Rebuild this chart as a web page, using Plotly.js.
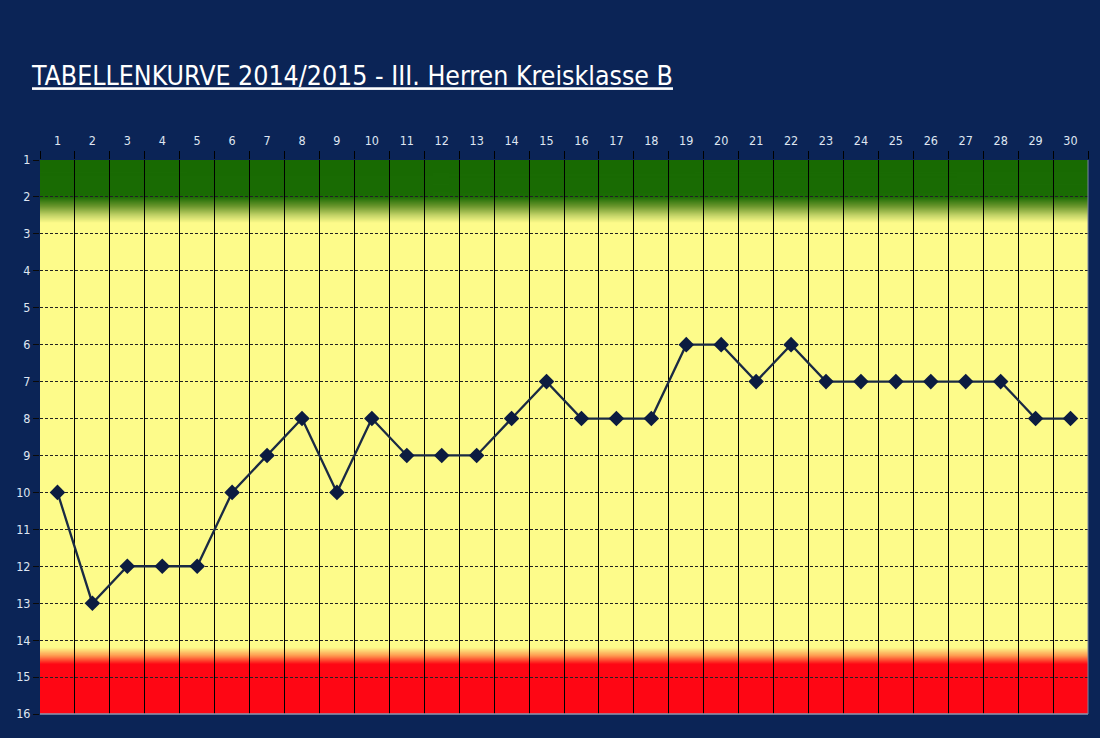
<!DOCTYPE html>
<html><head><meta charset="utf-8">
<script src="https://cdn.plot.ly/plotly-3.0.1.min.js"></script>
<style>html,body{margin:0;padding:0;background:#0b2456;}#chart{width:1100px;height:738px;}</style>
</head><body><div id="chart"></div>
<script>
var matchdays = ['1','2','3','4','5','6','7','8','9','10','11','12','13','14','15','16','17','18','19','20','21','22','23','24','25','26','27','28','29','30'];
var positions = [10,13,12,12,12,10,9,8,10,8,9,9,9,8,7,8,8,8,6,6,7,6,7,7,7,7,7,7,8,8];
var rankTicks = [1,2,3,4,5,6,7,8,9,10,11,12,13,14,15,16];
var titleText = 'TABELLENKURVE 2014/2015 - III. Herren Kreisklasse B';

// background gradient (green = promotion, red = relegation)
var cv = document.createElement('canvas');
cv.width = 4; cv.height = 600;
var ctx = cv.getContext('2d');
function f(v){ return (v-1)/15; }
var g = ctx.createLinearGradient(0,0,0,600);
g.addColorStop(0,'#186a02');
g.addColorStop(f(2.0),'#1a6c04');
g.addColorStop(f(2.25),'#6a962c');
g.addColorStop(f(2.5),'#c4d468');
g.addColorStop(f(2.7),'#fdfb8a');
g.addColorStop(f(14.2),'#fdfb8a');
g.addColorStop(f(14.42),'#fe9a50');
g.addColorStop(f(14.65),'#fe0614');
g.addColorStop(1,'#fe0614');
ctx.fillStyle = g; ctx.fillRect(0,0,4,600);
var bgImg = cv.toDataURL('image/png');

var trace = {
  x: matchdays, y: positions, type: 'scatter', mode: 'lines+markers',
  line: {color: '#1a2a44', width: 2.3},
  marker: {symbol: 'diamond', size: 12, color: '#0c1c40'},
  hoverinfo: 'x+y'
};

var layout = {
  width: 1100, height: 738,
  paper_bgcolor: '#0b2456', plot_bgcolor: 'rgba(0,0,0,0)',
  margin: {l: 40, r: 12, t: 160, b: 24},
  showlegend: false,
  font: {family: 'DejaVu Sans Condensed, DejaVu Sans, sans-serif', color: '#dfe6f2', size: 12},
  title: {
    text: '<u>' + titleText + '</u>',
    x: 32/1100, xanchor: 'left', xref: 'container',
    y: 1 - 76/738, yanchor: 'middle', yref: 'container',
    font: {family: 'DejaVu Sans Condensed, DejaVu Sans, sans-serif', size: 26.5, color: '#ffffff'}
  },
  xaxis: {
    type: 'category', side: 'top', categoryorder: 'array', categoryarray: matchdays,
    range: [-0.5, 29.5], autorange: false,
    tickson: 'boundaries', ticks: 'outside', ticklen: 8, tickcolor: '#000000', tickwidth: 1,
    ticklabelstandoff: 12,
    showgrid: true, gridcolor: '#000000', gridwidth: 1,
    showline: false, zeroline: false,
    tickfont: {size: 12.5, color: '#dfe6f2'}, fixedrange: true
  },
  yaxis: {
    range: [16, 1], tickmode: 'array', tickvals: rankTicks, ticktext: rankTicks.map(String),
    showgrid: true, gridcolor: '#222222', gridwidth: 1, griddash: '3px,2px',
    ticks: 'outside', ticklen: 6, tickcolor: '#0a0a0a',
    zeroline: false, showline: false,
    tickfont: {size: 12.5, color: '#dfe6f2'}, fixedrange: true
  },
  images: [{
    source: bgImg, xref: 'paper', yref: 'paper', x: 0, y: 1, sizex: 1, sizey: 1,
    sizing: 'stretch', xanchor: 'left', yanchor: 'top', layer: 'below'
  }],
  shapes: [
    {type: 'line', xref: 'paper', yref: 'paper', x0: 0, x1: 1, y0: 0, y1: 0, line: {color: '#8c98b0', width: 1.5}},
    {type: 'line', xref: 'paper', yref: 'paper', x0: 1, x1: 1, y0: 0, y1: 1, line: {color: '#7a86a0', width: 1}}
  ]
};

Plotly.newPlot('chart', [trace], layout, {displayModeBar: false, staticPlot: true});
</script></body></html>
